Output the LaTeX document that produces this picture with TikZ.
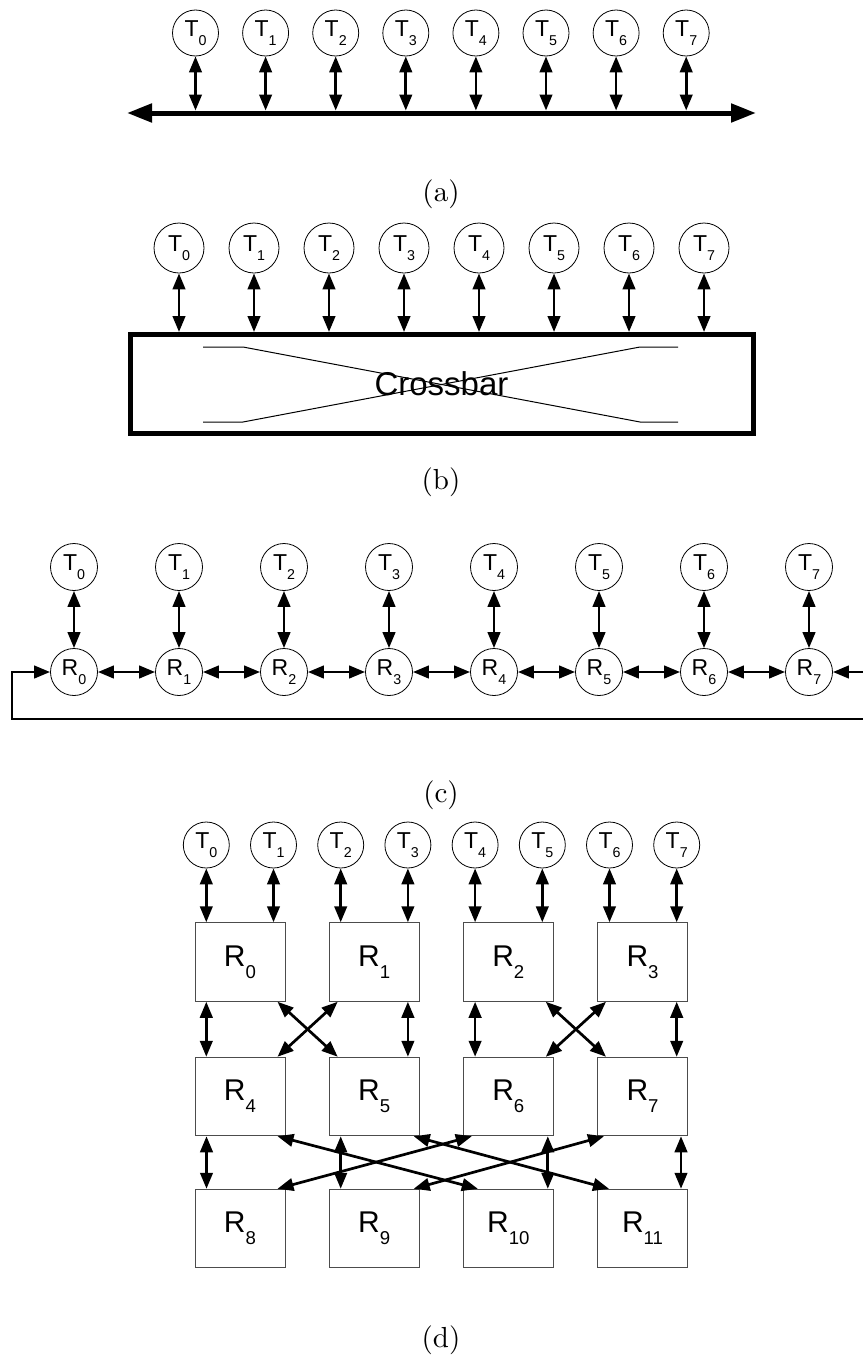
\documentclass[tikz,border=0pt]{standalone}
\usepackage{fontspec}
\usepackage{graphicx}
\newfontfamily\arialfont{Liberation Sans}
\usetikzlibrary{arrows.meta,calc}
\newcommand{\subix}[1]{\raisebox{-0.39em}{\scalebox{0.62}{#1}}}
\newcommand{\capt}[1]{\scalebox{2.9}{#1}}

\begin{document}
\begin{tikzpicture}[x=1pt,y=-1pt,
    term/.style={circle,draw,line width=0.8pt,inner sep=0pt,minimum size=46pt,
      font=\arialfont\fontsize{23}{23}\selectfont},
    rbox/.style={rectangle,draw=black!70,line width=1pt,inner sep=0pt,
      minimum width=90pt,minimum height=78.5pt,font=\arialfont\fontsize{30}{30}\selectfont},
    link/.style={line width=2.7pt,{Triangle[length=16pt,width=12.5pt]}-{Triangle[length=16pt,width=12.5pt]}},
    feed/.style={line width=2.7pt,-{Triangle[length=16pt,width=12.5pt]}},
    caption/.style={font=\fontsize{10}{10}\selectfont,inner sep=0pt}]
    \useasboundingbox (0,0) rectangle (862,1357);

    % (a) 总线
    \foreach \i in {0,...,7}
        \node[term] (aT\i) at ({195.5+70.1*\i},33) {T\subix{\i}};
    \coordinate (busL) at (127,113);
    \coordinate (busR) at (756,113);
    \draw[line width=5pt,{Triangle[length=25pt,width=18pt]}-{Triangle[length=25pt,width=18pt]}] (busL) -- (busR);
    \coordinate (abus) at (0,110.5);
    \foreach \i in {0,...,7}
        \draw[link] (aT\i) -- (aT\i |- abus);
    \node[caption] (capa) at (441,194) {\capt{(a)}};

    % (b) 交叉开关
    \foreach \i in {0,...,7}
        \node[term,minimum size=50pt] (bT\i) at ({179+75*\i},248) {T\subix{\i}};
    \node[draw,line width=5pt,inner sep=0pt,minimum width=623pt,minimum height=99pt,
        font=\arialfont\fontsize{33}{33}\selectfont] (xbar) at (441.5,384) {Crossbar};
    \foreach \i in {0,...,7}
        \draw[link] (bT\i) -- (bT\i |- xbar.north);
    % 开关内部的交叉线
    \draw[line width=1pt] (203,347) -- (243,347) -- (640,422) -- (678,422);
    \draw[line width=1pt] (203,422) -- (243,422) -- (640,347) -- (678,347);
    \node[caption] (capb) at (441,482) {\capt{(b)}};

    % (c) 环
    \foreach \i in {0,...,7} {
        \node[term,minimum size=47pt] (cT\i) at ({74+105*\i},567) {T\subix{\i}};
        \node[term,minimum size=47pt] (cR\i) at ({74+105*\i},672) {R\subix{\i}};
        \draw[link] (cT\i) -- (cR\i);
    }
    \foreach \i/\j in {0/1,1/2,2/3,3/4,4/5,5/6,6/7}
        \draw[link] (cR\i) -- (cR\j);
    % 回环连线
    \coordinate (loopR) at (871,672);
    \coordinate (loopL) at (12,672);
    \draw[feed] (loopR) -- (cR7);
    \draw[feed] (loopR) -- ++(0,47) -| (loopL) -- (cR0);
    \node[caption] (capc) at (441,795) {\capt{(c)}};

    % (d) 蝶形网络
    \foreach \k/\x in {0/240,1/374.2,2/508.3,3/642.5} {
        \node[rbox] (dR\k) at (\x,962) {R\subix{\k}};
        \pgfmathtruncatemacro{\m}{\k+4}
        \node[rbox] (dR\m) at (\x,1096.5) {R\subix{\m}};
        \pgfmathtruncatemacro{\n}{\k+8}
        \node[rbox] (dR\n) at (\x,1228.5) {R\subix{\n}};
    }
    \foreach \i [evaluate=\i as \k using int(\i/2)] in {0,...,7} {
        \node[term] (dT\i) at ({206.3+67.2*\i},845) {T\subix{\i}};
        \draw[link] (dT\i) -- (dT\i |- dR\k.north);
    }
    % 第一级到第二级
    \draw[link] (dT0 |- dR0.south) -- (dT0 |- dR4.north);
    \draw[link] (dT3 |- dR1.south) -- (dT3 |- dR5.north);
    \draw[link] (dT4 |- dR2.south) -- (dT4 |- dR6.north);
    \draw[link] (dT7 |- dR3.south) -- (dT7 |- dR7.north);
    \draw[link] ($(dR0.south east)+(-8,0)$) -- ($(dR5.north west)+(9,0)$);
    \draw[link] ($(dR1.south west)+(9,0)$) -- ($(dR4.north east)+(-8,0)$);
    \draw[link] ($(dR2.south east)+(-8,0)$) -- ($(dR7.north west)+(9,0)$);
    \draw[link] ($(dR3.south west)+(9,0)$) -- ($(dR6.north east)+(-8,0)$);
    % 第二级到第三级
    \draw[link] ($(dR4.south west)+(12,0)$) -- ($(dR8.north west)+(12,0)$);
    \draw[link] ($(dR5.south west)+(12,0)$) -- ($(dR9.north west)+(12,0)$);
    \draw[link] ($(dR6.south east)+(-6,0)$) -- ($(dR10.north east)+(-6,0)$);
    \draw[link] ($(dR7.south east)+(-7,0)$) -- ($(dR11.north east)+(-7,0)$);
    \draw[link] ($(dR4.south east)+(-8,0)$) -- ($(dR10.north west)+(15,0)$);
    \draw[link] ($(dR5.south east)+(-6,0)$) -- ($(dR11.north west)+(12,0)$);
    \draw[link] ($(dR6.south west)+(9,0)$) -- ($(dR8.north east)+(-8,0)$);
    \draw[link] ($(dR7.south west)+(7,0)$) -- ($(dR9.north east)+(-6,0)$);
    \node[caption] (capd) at (441,1340) {\capt{(d)}};
\end{tikzpicture}
\end{document}
